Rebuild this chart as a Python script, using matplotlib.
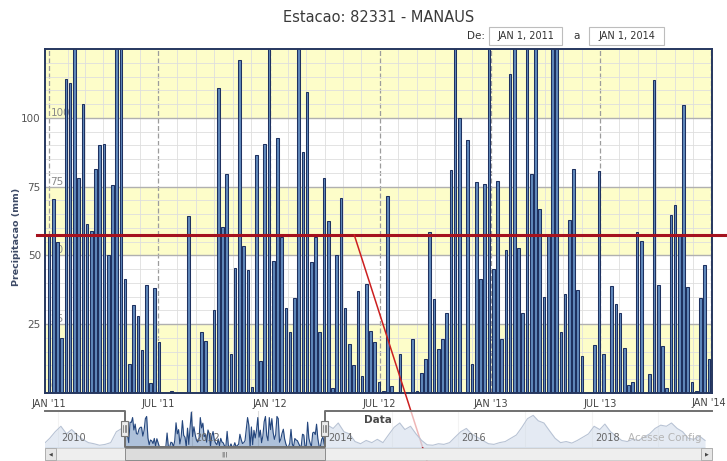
import matplotlib
matplotlib.use("Agg")
import matplotlib.pyplot as plt
import matplotlib.dates as mdates
from matplotlib.patches import Rectangle
from matplotlib.transforms import blended_transform_factory as blend
from datetime import date, timedelta

# weekly rainfall, Manaus station 82331, first week starting 1 Jan 2011
rain_mm = [
    57.5, 70.6, 54.7, 19.9, 114, 112.5, 135, 78, 105, 61.5,
    58.7, 81.5, 90, 90.6, 50, 75.7, 130, 140, 41.4, 10.6,
    32, 28, 15.7, 39.3, 3.8, 38, 18.7, 0, 0, 0.7,
    0, 0, 0, 64.2, 0, 0, 22, 19, 0, 30,
    111, 60.3, 79.6, 14, 45.6, 121, 53.3, 44.8, 2, 86.4,
    11.7, 90.5, 160, 48, 92.7, 56.6, 31, 22.3, 34.5, 135,
    87.5, 109.3, 47.6, 56.6, 22, 78, 62.4, 1.7, 50, 70.9,
    30.8, 17.8, 10.2, 37, 6.2, 39.6, 22.6, 18.7, 4.1, 0.7,
    71.7, 2.7, 0, 14.2, 0, 0, 19.7, 0.7, 7.2, 12.4,
    58.4, 34.1, 15.9, 19.7, 29.2, 81.2, 135, 100, 0, 91.9,
    10.4, 76.6, 41.4, 76, 135, 45, 77, 19.7, 51.8, 116,
    140, 52.7, 29, 135, 79.6, 130, 67, 35, 57.3, 140,
    130, 22, 36, 63, 81.5, 37.5, 13.6, 0, 0, 17.5,
    80.8, 14, 0, 39, 32.3, 29, 16.3, 3, 4.1, 58.4,
    55.3, 0, 6.8, 113.7, 39.3, 17.1, 1.7, 64.6, 68.2, 57,
    104.5, 38.5, 4.1, 0.7, 34.5, 46.6, 12.4,
]

# monthly totals used only in the navigator strip (outside the selected range)
rain_before = [15, 40, 70,                                   # Oct-Dec 2009
               95, 60, 80, 55, 35, 20, 15, 8, 12, 20, 70, 85]  # 2010
rain_after = [100, 85, 110, 70, 60, 25, 15, 30, 20, 35, 20, 55,   # 2014
              90, 110, 80, 95, 60, 30, 10, 8, 15, 12, 20, 45,     # 2015
              70, 85, 60, 45, 30, 15, 12, 20, 25, 40, 55, 90,     # 2016
              130, 145, 120, 110, 75, 40, 20, 25, 18, 30, 45, 60, # 2017
              95, 80, 105, 70, 50, 30, 25, 35, 30, 45, 60, 85,    # 2018
              100, 95, 110, 85, 70, 40, 35, 50, 30]               # 2019

threshold = 57.5
sel_start, sel_end = date(2011, 1, 1), date(2014, 1, 1)
tick_dates = [date(2011, 1, 1), date(2011, 7, 1), date(2012, 1, 1), date(2012, 7, 1),
              date(2013, 1, 1), date(2013, 7, 1), date(2014, 1, 1)]
tick_labels = ["JAN '11", "JUL '11", "JAN '12", "JUL '12", "JAN '13", "JUL '13", "JAN '14"]
y_ticks = [25, 50, 75, 100]

W, H = 727, 461


def fx(px):
    return px / W


def fy(py):
    return 1 - py / H


def months_from(year, month, n):
    out = []
    for k in range(n):
        y, m = year + (month - 1 + k) // 12, (month - 1 + k) % 12 + 1
        out.append(date(y, m, 15))
    return out


fig = plt.figure(figsize=(W / 100, H / 100), dpi=100)

# ---- main chart
ax = fig.add_axes([fx(45), fy(393), fx(712) - fx(45), (393 - 49) / H])
week_dates = [sel_start + timedelta(weeks=i) for i in range(len(rain_mm))]
wx = mdates.date2num(week_dates)
ax.set_xlim(mdates.date2num(sel_start) - 6.6, mdates.date2num(date(2014, 1, 2)))
ax.set_ylim(0, 125)

for lo in (0, 50, 100):
    ax.axhspan(lo, lo + 25, color="#fdfdc9", lw=0, zorder=0)

ax.set_axisbelow(True)
ax.set_yticks(range(0, 126, 5), minor=True)
ax.xaxis.set_minor_locator(mdates.MonthLocator())
ax.grid(which="minor", color="#dedede", lw=0.6)
ax.grid(which="major", axis="y", color="#b0b0b0", lw=1.0)
ax.grid(which="major", axis="x", color="#9c9c9c", lw=0.9, linestyle=(0, (4, 2)))

ax.set_yticks(y_ticks)
ax.set_yticklabels([str(v) for v in y_ticks])
ax.set_xticks(mdates.date2num(tick_dates))
# last label is placed by hand so it stays inside the figure
ax.set_xticklabels(tick_labels[:-1] + [""])
ax.tick_params(which="both", length=0)
ax.tick_params(axis="y", pad=3, labelsize=7.5, labelcolor="#555555")
ax.tick_params(axis="x", pad=4, labelsize=7, labelcolor="#444444")
fig.text(fx(726), fy(403), tick_labels[-1], ha="right", va="center", fontsize=7, color="#444444")

# second set of y labels drawn inside the plot, behind the bars
inner = blend(ax.transAxes, ax.transData)
for v in [0] + y_ticks:
    ax.text(0.008, v + (2.6 if v == 0 else 1.8), str(v), transform=inner,
            ha="left", va="center", fontsize=7.5, color="#8a8a8a", zorder=1)

ax.bar(wx, rain_mm, width=4.4, color="#6088bb", edgecolor="#1e3160",
       linewidth=0.75, zorder=2)

for s in ax.spines.values():
    s.set_color("#26375f")
    s.set_linewidth(1.4)

# threshold line runs past both edges of the plot
ax.plot([fx(37), 1.0], [threshold, threshold], transform=blend(fig.transFigure, ax.transData),
        color="#a5121e", lw=2.2, clip_on=False, zorder=6)
ax.annotate("", xy=(mdates.date2num(date(2012, 5, 20)), threshold), xycoords="data",
            xytext=(fx(427), 0), textcoords="figure fraction",
            arrowprops=dict(arrowstyle="-", color="#cc1f1f", lw=1.1, shrinkA=0, shrinkB=0),
            annotation_clip=False, zorder=7)

# ---- header
fig.text(fx(379), fy(17), "Estacao: 82331 - MANAUS", ha="center", va="center",
         fontsize=10.5, color="#3a3a3a")
fig.text(fx(476), fy(36), "De:", ha="center", va="center", fontsize=7.5, color="#333333")
fig.text(fx(577), fy(36), "a", ha="center", va="center", fontsize=7.5, color="#333333")
for x0, x1, txt in ((489, 562, "JAN 1, 2011"), (589, 664, "JAN 1, 2014")):
    fig.patches.append(Rectangle((fx(x0), fy(45)), fx(x1) - fx(x0), 18 / H,
                                 transform=fig.transFigure, fc="white", ec="#bdbdbd", lw=0.8))
    fig.text(fx((x0 + x1) / 2), fy(36), txt, ha="center", va="center", fontsize=7, color="#333333")

fig.text(fx(17), fy(237), "Precipitacao (mm)", rotation=90, ha="center", va="center",
         fontsize=6.8, fontweight="bold", color="#3d4a66")
fig.text(fx(378), fy(420), "Data", ha="center", va="center", fontsize=7.5,
         fontweight="bold", color="#4a4a4a", zorder=10)

# ---- navigator
nav = fig.add_axes([fx(45), fy(447), fx(712) - fx(45), (447 - 411) / H])
nav_lo = mdates.date2num(sel_start) - 438
nav_hi = mdates.date2num(sel_end) + 2121
s0, s1 = mdates.date2num(sel_start), mdates.date2num(sel_end)
nav.set_xlim(nav_lo, nav_hi)
nav.set_ylim(0, 165)
nav.set_xticks([])
nav.set_yticks([])
nav.patch.set_alpha(0)
for s in nav.spines.values():
    s.set_visible(False)

nx = list(mdates.date2num(months_from(2009, 10, len(rain_before)))) + list(wx) + \
    list(mdates.date2num(months_from(2014, 1, len(rain_after))))
ny = rain_before + rain_mm + rain_after
for yr in range(2010, 2020):
    nav.axvline(mdates.date2num(date(yr, 1, 1)), color="#dcdcdc", lw=0.8, zorder=0)
nav.fill_between(nx, ny, color="#4d77ad", alpha=0.45, lw=0, zorder=1)
nav.plot(nx, ny, color="#24467d", lw=0.8, zorder=2)
nav.axvspan(nav_lo, s0, color="white", alpha=0.68, lw=0, zorder=3)
nav.axvspan(s1, nav_hi, color="white", alpha=0.68, lw=0, zorder=3)
for yr in range(2010, 2020, 2):
    nav.text(mdates.date2num(date(yr, 1, 1)) + 18, 0.25, str(yr),
             transform=blend(nav.transData, nav.transAxes), ha="left", va="center",
             fontsize=7, color="#666666", zorder=4)

nav.plot([nav_lo, s0, s0, s1, s1, nav_hi], [1, 1, 0, 0, 1, 1],
         transform=blend(nav.transData, nav.transAxes), color="#707070", lw=1.4,
         clip_on=False, zorder=5)

fig.text(fx(628), fy(438), "Acesse Config", ha="left", va="center", fontsize=7.5,
         color="#b4b4b4", zorder=10)

# scrollbar under the navigator
fig.patches.append(Rectangle((fx(45), fy(460)), fx(712) - fx(45), 12 / H, transform=fig.transFigure,
                             fc="#eeeeee", ec="#c8c8c8", lw=0.6))
for bx, arrow in ((45, "\u25c0"), (701, "\u25b6")):
    fig.patches.append(Rectangle((fx(bx), fy(460)), fx(11), 12 / H, transform=fig.transFigure,
                                 fc="#e6e6e6", ec="#a8a8a8", lw=0.6))
    fig.text(fx(bx + 5.5), fy(454), arrow, ha="center", va="center", fontsize=3.5, color="#444444")

hbl = blend(nav.transData, fig.transFigure)
fig.patches.append(Rectangle((s0, fy(460)), s1 - s0, 12 / H, transform=hbl,
                             fc="#dcdcdc", ec="#8c8c8c", lw=0.7))
fig.text((s0 + s1) / 2, fy(454), "|||", transform=hbl, ha="center", va="center",
         fontsize=4.5, color="#555555")

# drag handles on the selection edges
day_px = (fx(712) - fx(45)) * W / (nav_hi - nav_lo)
for sx in (s0, s1):
    fig.patches.append(Rectangle((sx - 3.5 / day_px, fy(436)), 7 / day_px, 15 / H,
                                 transform=hbl, fc="#ebebeb", ec="#777777", lw=0.8, zorder=6))
    for off in (-1.5, 0, 1.5):
        fig.add_artist(plt.Line2D([sx + off / day_px] * 2, [fy(432), fy(425)], transform=hbl,
                                  color="#666666", lw=0.5, zorder=7))

fig.savefig("out.png", dpi=100)
